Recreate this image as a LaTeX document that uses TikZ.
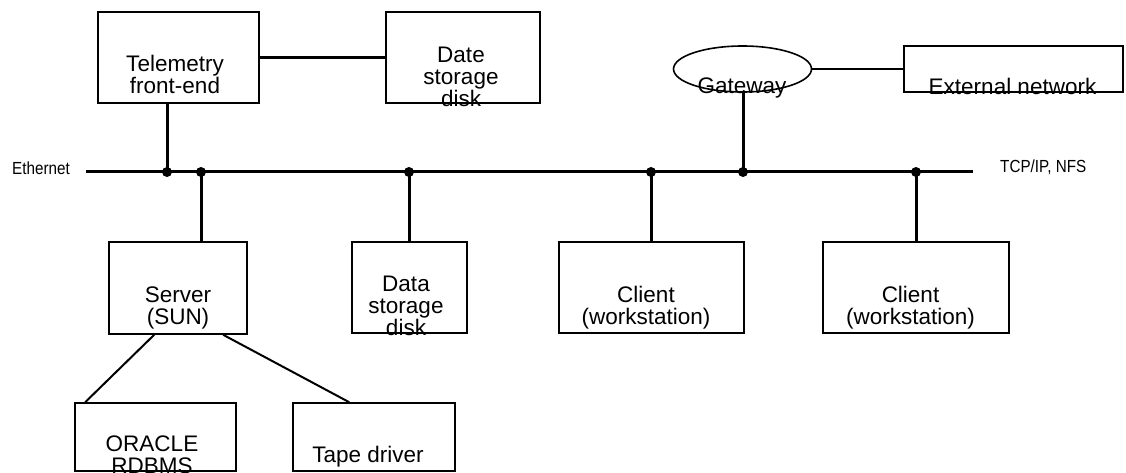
\documentclass[tikz,border=0pt]{standalone}
\usepackage{fontspec}
\setmainfont{Liberation Sans}
\usetikzlibrary{shapes.geometric}

\begin{document}
\begin{tikzpicture}[x=1pt,y=-1pt,
  box/.style={draw, line width=1.6pt, inner sep=0pt},
  bus/.style={line width=3pt},
  link/.style={line width=2pt},
  txt/.style={font=\fontsize{22.5pt}{22pt}\selectfont, align=center, inner sep=0pt, anchor=base},
  tag/.style={font=\fontsize{17.5pt}{20pt}\selectfont, inner sep=0pt, anchor=base west}]
  \useasboundingbox (0,0) rectangle (1126,473);

  % top row
  \node[box, minimum width=161, minimum height=91] (tele) at (178.5,57.5) {};
  \node[box, minimum width=154, minimum height=91] (date) at (463,57.5) {};
  \node[box, ellipse, minimum width=138, minimum height=46] (gw) at (742.5,69) {};
  \node[box, minimum width=219, minimum height=46] (ext) at (1013.5,69) {};

  % bottom rows
  \node[box, minimum width=138, minimum height=92] (server) at (178,288) {};
  \node[box, minimum width=115, minimum height=91] (data) at (409.5,287.5) {};
  \node[box, minimum width=185, minimum height=91] (client1) at (651.5,287.5) {};
  \node[box, minimum width=186, minimum height=91] (client2) at (916,287.5) {};
  \node[box, minimum width=161, minimum height=68] (oracle) at (155.5,437) {};
  \node[box, minimum width=162, minimum height=68] (tape) at (374,437) {};

  % texts
  \node[txt] (teletxt) at (175,94) {Telemetry\\front-end};
  \node[txt] (datetxt) at (461,106.5) {Date\\storage\\disk};
  \node[txt] (gwtxt) at (742,94) {Gateway};
  \node[txt] (exttxt) at (1012.5,94.5) {External network};
  \node[txt] (servertxt) at (178,324) {Server\\(SUN)};
  \node[txt] (datatxt) at (406,335.5) {Data\\storage\\disk};
  \node[txt] (client1txt) at (646,324) {Client\\(workstation)};
  \node[txt] (client2txt) at (910.5,324) {Client\\(workstation)};
  \node[txt] (oracletxt) at (152,473.7) {ORACLE\\RDBMS};
  \node[txt] (tapetxt) at (368,462) {Tape driver};

  % ethernet bus
  \coordinate (ethW) at (86,172);
  \coordinate (ethE) at (973,172);
  \node[tag] (ethtxt) at (12,175) {\scalebox{0.87}[1]{Ethernet}};
  \node[tag] (tcptxt) at (1000,172) {\scalebox{0.87}[1]{TCP/IP, NFS}};
  \draw[bus] (ethW) -- (ethE);

  \coordinate (t1) at (167,172);
  \coordinate (t2) at (201,172);
  \coordinate (t3) at (409,172);
  \coordinate (t4) at (651,172);
  \coordinate (t5) at (743,172);
  \coordinate (t6) at (916,172);

  \draw[bus] (t1) -- (t1 |- tele.south);
  \draw[bus] (t2) -- (t2 |- server.north);
  \draw[bus] (t3) -- (t3 |- data.north);
  \draw[bus] (t4) -- (t4 |- client1.north);
  \draw[bus] (t5) -- (t5 |- gw.south);
  \draw[bus] (t6) -- (t6 |- client2.north);
  \foreach \t in {t1,t2,t3,t4,t5,t6}
    \fill (\t) circle[radius=5pt];

  % other links
  \draw[bus] (tele) -- (date);
  \draw[link] (gw) -- (ext);
  \draw[link] ([xshift=46pt]server.south west) -- ([xshift=11pt]oracle.north west);
  \draw[link] ([xshift=115pt]server.south west) -- ([xshift=57pt]tape.north west);
\end{tikzpicture}
\end{document}
